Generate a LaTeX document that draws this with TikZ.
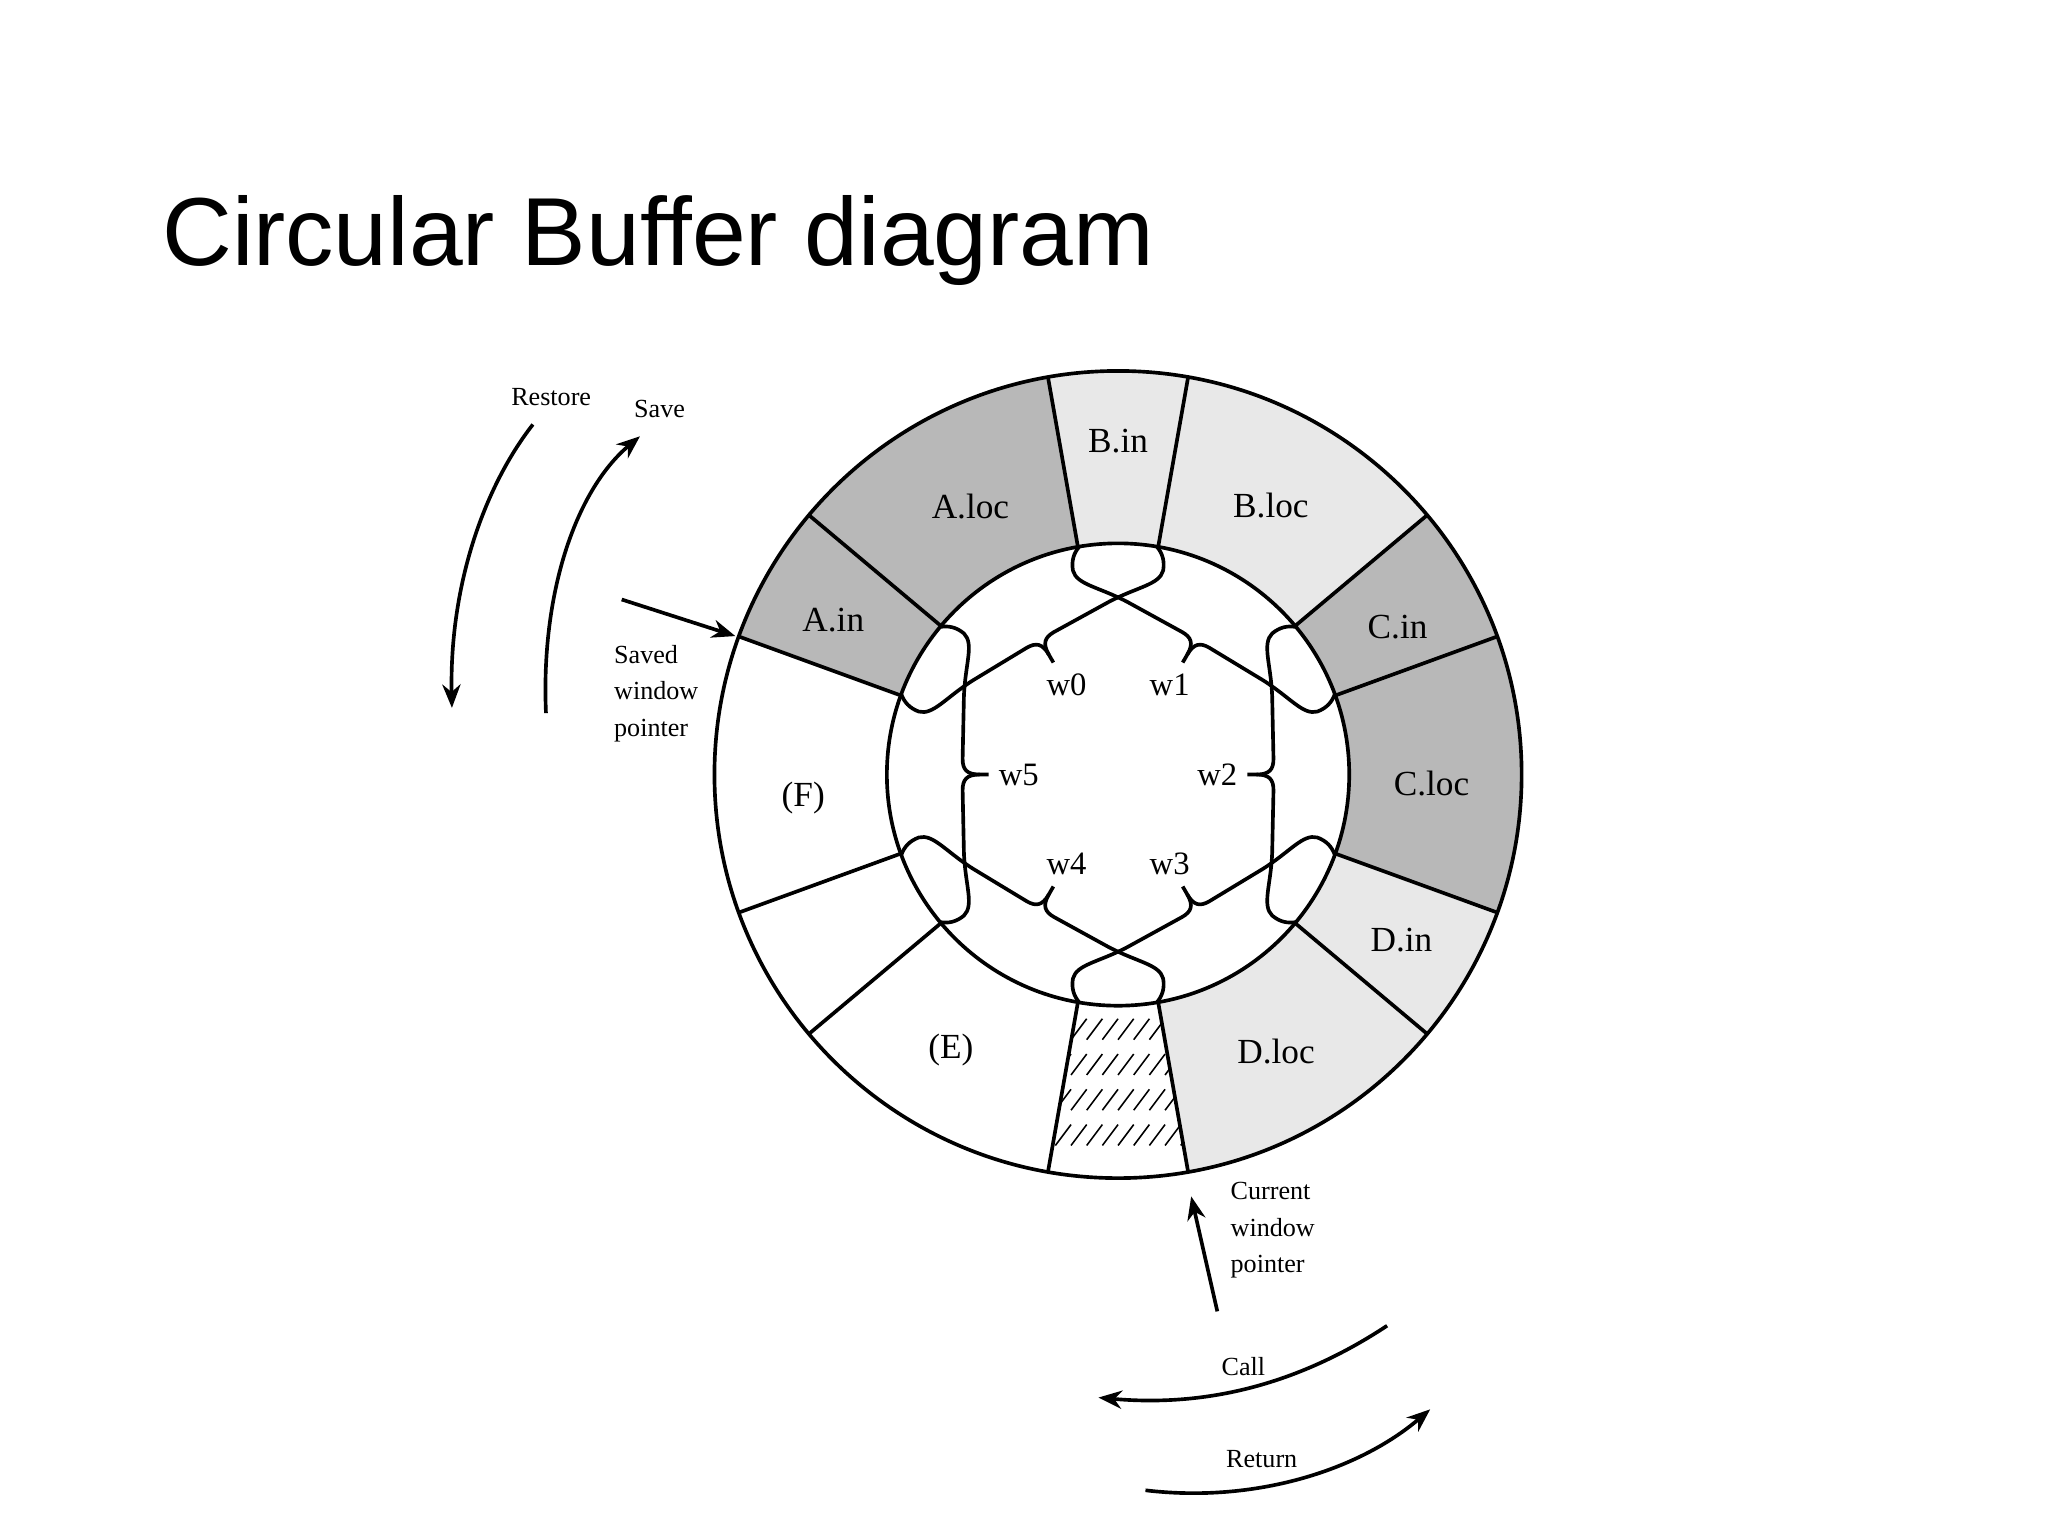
\documentclass[tikz,border=0pt]{standalone}
\usepackage{fontspec}
\setmainfont{Liberation Serif}
\newfontfamily\titlefont{Liberation Sans}
\usetikzlibrary{arrows.meta}
\definecolor{dk}{gray}{0.72}
\definecolor{lt}{gray}{0.91}
\tikzset{
  seglab/.style={font=\fontsize{27}{30}\selectfont, inner sep=0pt},
  wlab/.style={font=\fontsize{25}{28}\selectfont, inner sep=0pt},
  small/.style={font=\fontsize{20}{28}\selectfont, inner sep=0pt, align=left},
  ln/.style={line width=2.8pt},
  arr/.style={line width=2.8pt, -{Stealth[length=18pt,width=14pt]}},
}
\begin{document}
\begin{tikzpicture}[x=1pt,y=1pt]
\useasboundingbox (0,0) rectangle (1568,1176);
\node[anchor=base west, inner sep=0pt, font=\titlefont\fontsize{74}{80}\selectfont] (title) at (124,973) {Circular Buffer diagram};
\begin{scope}[shift={(856,583)}]
  % fills
  \foreach \a/\b/\c in {100/140/dk,140/160/dk,20/40/dk,-20/20/dk,80/100/lt,40/80/lt,-40/-20/lt,-80/-40/lt}{
    \fill[\c] (\a:177) arc(\a:\b:177) -- (\b:309) arc(\b:\a:309) -- cycle;
  }
  % hatched
  \begin{scope}
    \clip (-100:177) arc(-100:-80:177) -- (-80:309) arc(-80:-100:309) -- cycle;
    \foreach \yy in {-203,-230,-257,-284}{
      \foreach \xx in {-60,-48,...,60}{
        \draw[line width=1.2pt] (\xx,\yy) -- (\xx+12,\yy+16);
      }
    }
  \end{scope}
  \draw[ln] (0,0) circle (309);
  \draw[ln] (0,0) circle (177);
  \foreach \a in {100,80,40,20,-20,-40,-80,-100,-140,-160,160,140}{
    \draw[ln] (\a:177) -- (\a:309);
  }
  % windows
  \foreach \a in {0,60,...,300}{
    \draw[ln,rotate=\a] (99,0) -- (106,0) .. controls (116,0) and (119,4) .. (119,12) -- (118,60) .. controls (117,85) and (110,100) .. (118,108) .. controls (124,113) and (130,114) .. (136,113);
    \draw[ln,rotate=\a] (106,0) .. controls (116,0) and (119,-4) .. (119,-12) -- (118,-60) .. controls (117,-85) and (110,-100) .. (118,-108) .. controls (124,-113) and (130,-114) .. (136,-113);
  }
  \node[wlab] (w0) at (120:79) {w0};
  \node[wlab] (w1) at (60:79) {w1};
  \node[wlab] (w2) at (0:76) {w2};
  \node[wlab] (w3) at (-60:79) {w3};
  \node[wlab] (w4) at (-120:79) {w4};
  \node[wlab] (w5) at (180:76) {w5};
\end{scope}
% segment labels
\node[seglab] (aloc) at (743,788) {A.loc};
\node[seglab] (bin) at (856,838) {B.in};
\node[seglab] (bloc) at (973,789) {B.loc};
\node[seglab] (cin) at (1070,696) {C.in};
\node[seglab] (cloc) at (1096,576) {C.loc};
\node[seglab] (din) at (1073,456) {D.in};
\node[seglab] (dloc) at (977,371) {D.loc};
\node[seglab] (e) at (728,372) {(E)};
\node[seglab] (f) at (615,565) {(F)};
\node[seglab] (ain) at (638,701) {A.in};
% outside labels and arrows
\node[small] (restore) at (422,872) {Restore};
\node[small] (save) at (505,863) {Save};
\node[small, anchor=west] (swp) at (470,645) {Saved\\window\\pointer};
\node[small, anchor=west] (cwp) at (942,234) {Current\\window\\pointer};
\node[small] (call) at (952,130) {Call};
\node[small] (ret) at (966,59) {Return};
\coordinate (r1) at (408,851); \coordinate (r2) at (346,634);
\coordinate (s1) at (418,630); \coordinate (s2) at (490,842);
\coordinate (p1) at (476,717); \coordinate (p2) at (563,689);
\coordinate (q1) at (932,172); \coordinate (q2) at (912,260);
\coordinate (c1) at (1062,161); \coordinate (c2) at (841,106);
\coordinate (t1) at (877,35); \coordinate (t2) at (1095,97);
\draw[arr] (r1) .. controls (372,805) and (344,730) .. (r2);
\draw[arr] (s1) .. controls (414,720) and (440,800) .. (s2);
\draw[arr] (p1) -- (p2);
\draw[arr] (q1) -- (q2);
\draw[arr] (c1) .. controls (1000,120) and (930,98) .. (c2);
\draw[arr] (t1) .. controls (960,25) and (1040,50) .. (t2);
\end{tikzpicture}
\end{document}
